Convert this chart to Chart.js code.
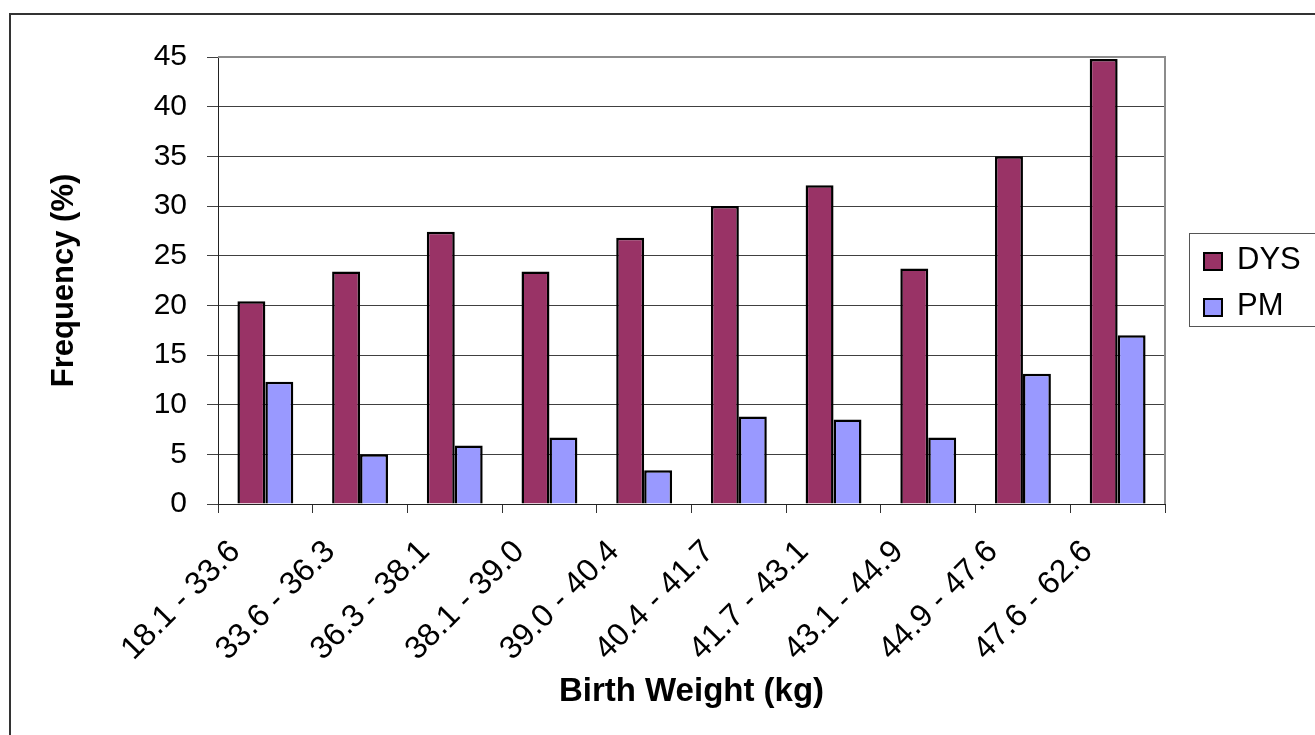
<!DOCTYPE html>
<html>
<head>
<meta charset="utf-8">
<title>Birth weight frequency</title>
<script src="https://cdn.jsdelivr.net/npm/chart.js@4.4.0/dist/chart.umd.min.js"></script>
<style>
  html, body { margin: 0; padding: 0; background: #fff; overflow: hidden; }
  #wrap { position: relative; width: 1315px; height: 735px; overflow: hidden; }
  #frame { position: absolute; left: 9px; top: 13px; width: 1400px; height: 800px;
           border-left: 2px solid #333; border-top: 2px solid #333; }
  #chart { position: absolute; left: 0; top: 0; }
  #legend { position: absolute; left: 1189px; top: 233px; width: 150px; height: 92px;
            border: 1px solid #555; font-family: "Liberation Sans", Arial, sans-serif;
            font-size: 31px; line-height: 31px; color: #000; }
  .swatch { position: absolute; left: 13px; width: 20px; height: 19px;
            box-sizing: border-box; border: 2px solid #000; }
  .label { position: absolute; left: 47px; white-space: nowrap; }
</style>
</head>
<body>
<div id="wrap">
  <div id="frame"></div>
  <canvas id="chart" width="1315" height="735"></canvas>
  <div id="legend"></div>
</div>
<script>
const categories = ['18.1 - 33.6', '33.6 - 36.3', '36.3 - 38.1', '38.1 - 39.0', '39.0 - 40.4',
                    '40.4 - 41.7', '41.7 - 43.1', '43.1 - 44.9', '44.9 - 47.6', '47.6 - 62.6']
const dysValues = [20.4, 23.4, 27.4, 23.4, 26.8, 30.0, 32.1, 23.7, 35.0, 44.8]
const pmValues = [12.3, 5.0, 5.9, 6.7, 3.4, 8.8, 8.5, 6.7, 13.1, 17.0]
const seriesNames = ['DYS', 'PM']
const seriesColors = ['#993366', '#9999ff']
const yMin = 0
const yMax = 45
const yStep = 5

const FONT = '"Liberation Sans", Arial, sans-serif'

// gray frame on the top and right side of the plot area
const plotFrame = {
    id: 'plotFrame',
    beforeDatasetsDraw(chart) {
        const {ctx, chartArea: a} = chart
        ctx.save()
        ctx.strokeStyle = '#8c8c8c'
        ctx.lineWidth = 2
        ctx.beginPath()
        ctx.moveTo(a.left, a.top)
        ctx.lineTo(a.right, a.top)
        ctx.lineTo(a.right, a.bottom)
        ctx.stroke()
        ctx.restore()
    }
}

function buildLegend() {
    const legend = document.getElementById('legend')
    seriesNames.forEach((name, i) => {
        const sw = document.createElement('div')
        sw.className = 'swatch'
        sw.style.top = (18 + i * 46) + 'px'
        sw.style.background = seriesColors[i]
        const lb = document.createElement('div')
        lb.className = 'label'
        lb.style.top = (9 + i * 46) + 'px'
        lb.textContent = name
        legend.appendChild(sw)
        legend.appendChild(lb)
    })
}

function drawChart() {
    new Chart('chart', {
        type: 'bar',
        data: {
            labels: categories,
            datasets: [dysValues, pmValues].map((values, i) => ({
                label: seriesNames[i],
                data: values,
                backgroundColor: seriesColors[i],
                borderColor: '#000',
                borderWidth: 2.5,
                categoryPercentage: 0.59,
                barPercentage: 1.0
            }))
        },
        options: {
            responsive: false,
            animation: false,
            devicePixelRatio: 1,
            layout: {padding: {top: 57, right: 150, bottom: 0, left: 0}},
            plugins: {
                legend: {display: false},
                tooltip: {enabled: false}
            },
            scales: {
                x: {
                    grid: {display: true, drawOnChartArea: false, drawTicks: true,
                           tickLength: 9, color: '#333', offset: true},
                    border: {color: '#222', width: 1},
                    ticks: {
                        autoSkip: false, minRotation: 45, maxRotation: 45,
                        color: '#000', font: {family: FONT, size: 32},
                        padding: 20, labelOffset: -30
                    },
                    title: {
                        display: true, text: 'Birth Weight (kg)', color: '#000',
                        font: {family: FONT, size: 33, weight: 'bold'},
                        padding: {top: 0, bottom: 23}
                    },
                    afterFit: scale => { scale.height = 231 }
                },
                y: {
                    min: yMin, max: yMax,
                    grid: {
                        color: c => c.tick && c.tick.value === yMax ? 'rgba(0,0,0,0)' : '#404040',
                        tickColor: '#404040', tickLength: 11, lineWidth: 1
                    },
                    border: {color: '#222', width: 1},
                    ticks: {
                        stepSize: yStep, color: '#000',
                        font: {family: FONT, size: 30}, padding: 20
                    },
                    title: {
                        display: true, text: 'Frequency (%)', color: '#000',
                        font: {family: FONT, size: 31, weight: 'bold'},
                        padding: {top: 46, bottom: 0}
                    },
                    afterFit: scale => { scale.width = 218 }
                }
            }
        },
        plugins: [plotFrame]
    })
}

buildLegend()
drawChart()
</script>
</body>
</html>
